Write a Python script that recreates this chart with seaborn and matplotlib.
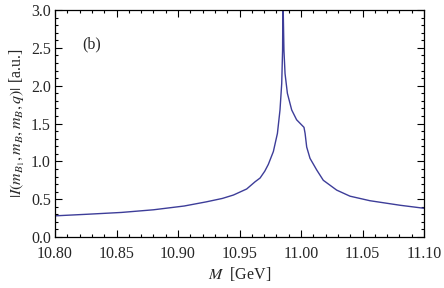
import matplotlib
matplotlib.use("Agg")
import matplotlib.pyplot as plt
import seaborn as sns
import pandas as pd
from matplotlib.ticker import MultipleLocator, FormatStrFormatter

# values
mass = [10.800, 10.825, 10.854, 10.880, 10.905, 10.923, 10.936, 10.945, 10.9558,
        10.9626, 10.9667, 10.9705, 10.9734, 10.9775, 10.9808, 10.9829, 10.9843,
        10.9850, 10.9853, 10.9861, 10.9870, 10.9889, 10.9924, 10.9964, 11.0000,
        11.0024, 11.0033, 11.0046, 11.0073, 11.0128, 11.0181, 11.0290, 11.0398,
        11.0560, 11.0805, 11.1000]
amp = [0.28, 0.30, 0.325, 0.36, 0.41, 0.465, 0.51, 0.555, 0.635,
       0.73, 0.78, 0.87, 0.96, 1.13, 1.37, 1.68, 2.03,
       2.47, 3.20, 2.47, 2.16, 1.90, 1.68, 1.55, 1.49,
       1.45, 1.37, 1.19, 1.04, 0.885, 0.75, 0.62, 0.54,
       0.48, 0.42, 0.38]

df = pd.DataFrame({"M": mass, "I": amp})

sns.set_style("ticks")
plt.rcParams["font.family"] = ["Liberation Serif", "DejaVu Serif"]
plt.rcParams["mathtext.fontset"] = "stix"

fig = plt.figure(figsize=(4.44, 2.88), dpi=100)
ax = fig.add_axes([0.124, 0.177, 0.831, 0.788])
sns.lineplot(data=df, x="M", y="I", ax=ax, color="#3d3d99", linewidth=1.0, sort=False)

ax.set_xlim(10.80, 11.10)
ax.set_ylim(0, 3.0)
ax.xaxis.set_major_locator(MultipleLocator(0.05))
ax.xaxis.set_minor_locator(MultipleLocator(0.01))
ax.yaxis.set_major_locator(MultipleLocator(0.5))
ax.yaxis.set_minor_locator(MultipleLocator(0.1))
ax.xaxis.set_major_formatter(FormatStrFormatter("%.2f"))
ax.yaxis.set_major_formatter(FormatStrFormatter("%.1f"))
ax.tick_params(which="both", direction="in", top=True, right=True, labelsize=11.5,
               color="black", width=0.8)
ax.tick_params(axis="x", pad=6.5)
ax.tick_params(axis="y", pad=3)
ax.tick_params(which="major", length=5)
ax.tick_params(which="minor", length=2.5)
for s in ax.spines.values():
    s.set_linewidth(0.9)
    s.set_color("black")

ax.set_xlabel(r"$M$  [GeV]", fontsize=11.5, labelpad=2)
ax.set_ylabel(r"$|I(m_{B_1}, m_B, m_B, q)|$ [a.u.]", fontsize=11.5, labelpad=3)
ax.text(10.83, 2.54, "(b)", fontsize=11.5, ha="center", va="center")

fig.savefig("out.png", dpi=100)
